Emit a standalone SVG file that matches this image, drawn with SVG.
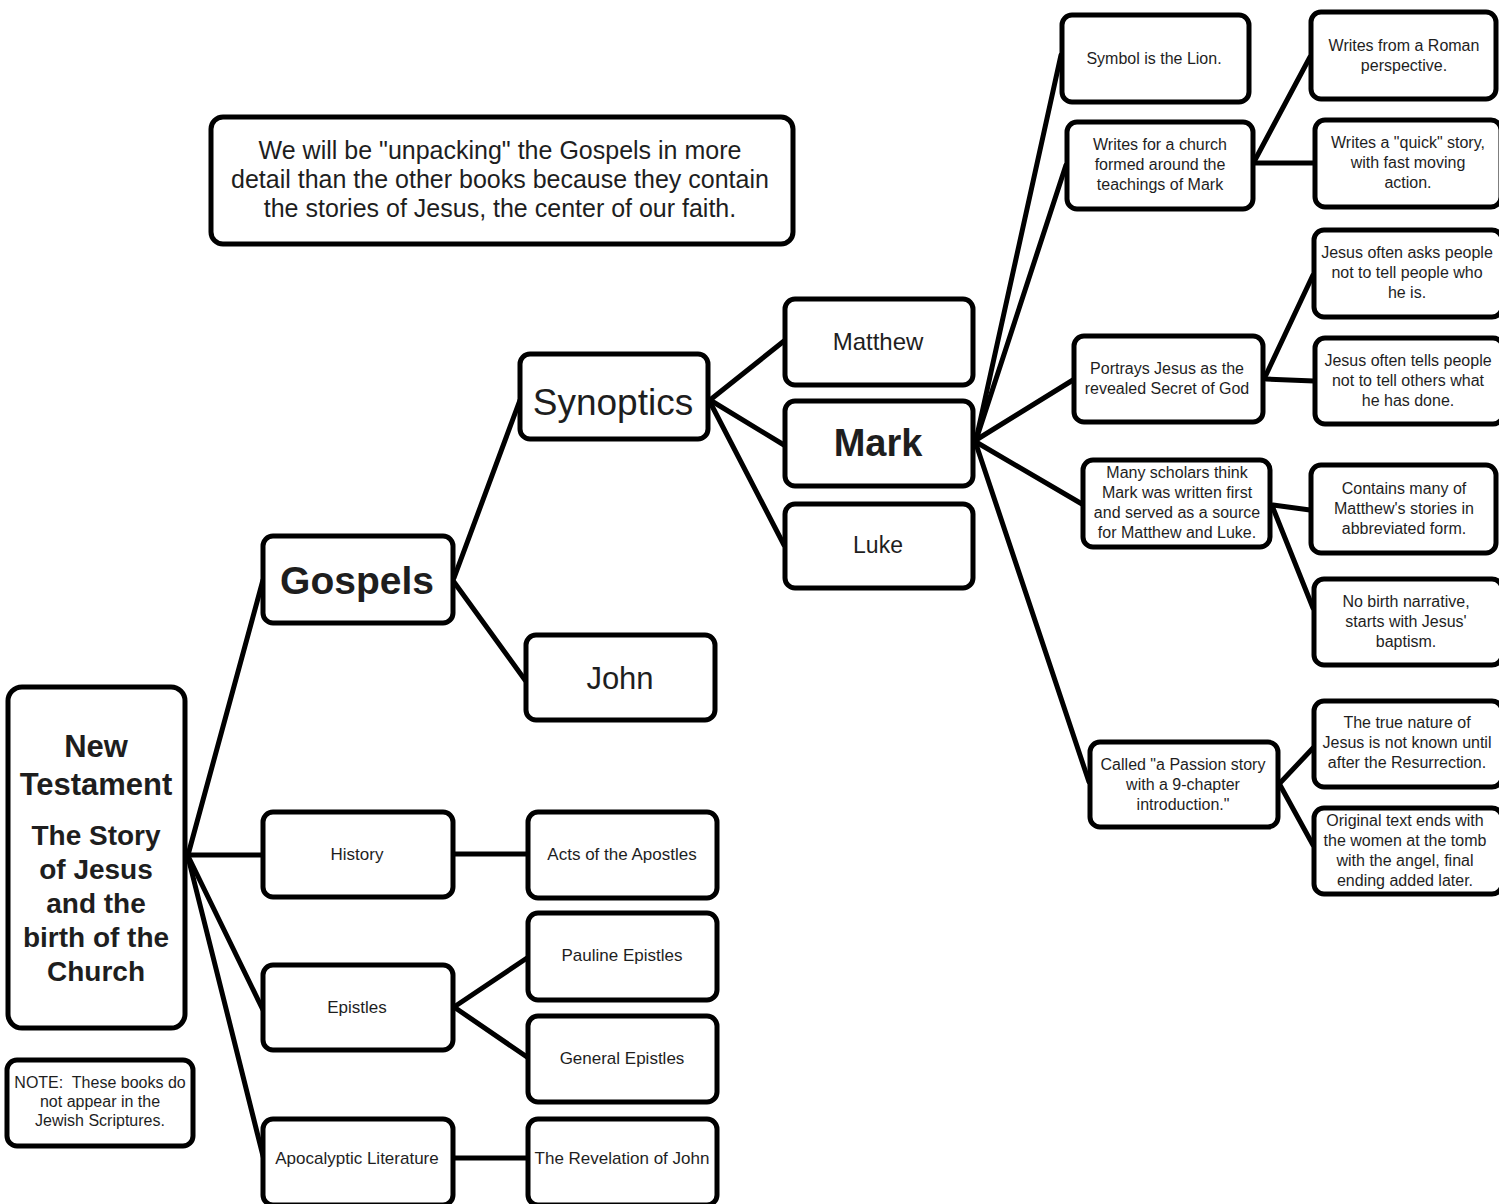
<svg xmlns="http://www.w3.org/2000/svg" width="1499" height="1204" viewBox="0 0 1499 1204">
<style>
.box{fill:#fff;stroke:#000;stroke-width:5}
.c{stroke:#000;stroke-width:5;fill:none;stroke-linecap:round}
text{font-family:"Liberation Sans",Arial,sans-serif;fill:#1e1e1e;text-anchor:middle}
.s{font-size:16px}
.m{font-size:17px}
.b{font-weight:bold}
.pre{white-space:pre}
</style>
<rect width="1499" height="1204" fill="#fff"/>
<g id="connectors">
<line class="c" x1="188" y1="855" x2="263" y2="580"/>
<line class="c" x1="188" y1="855" x2="263" y2="855"/>
<line class="c" x1="189" y1="858" x2="263" y2="1010"/>
<line class="c" x1="189" y1="861" x2="264" y2="1160"/>
<line class="c" x1="454" y1="578" x2="520" y2="400"/>
<line class="c" x1="454" y1="582" x2="525" y2="680"/>
<line class="c" x1="710" y1="400" x2="784" y2="341"/>
<line class="c" x1="710" y1="400" x2="784" y2="445"/>
<line class="c" x1="711" y1="404" x2="784" y2="545"/>
<line class="c" x1="976" y1="440" x2="1061" y2="55"/>
<line class="c" x1="976" y1="440" x2="1066" y2="165"/>
<line class="c" x1="976" y1="440" x2="1073" y2="380"/>
<line class="c" x1="976" y1="442" x2="1082" y2="504"/>
<line class="c" x1="976" y1="444" x2="1089" y2="782"/>
<line class="c" x1="1255" y1="160" x2="1310" y2="57"/>
<line class="c" x1="1255" y1="163" x2="1314" y2="163"/>
<line class="c" x1="1266" y1="375" x2="1313" y2="275"/>
<line class="c" x1="1266" y1="379" x2="1314" y2="381"/>
<line class="c" x1="1273" y1="505" x2="1310" y2="510"/>
<line class="c" x1="1273" y1="508" x2="1313" y2="608"/>
<line class="c" x1="1280" y1="783" x2="1313" y2="748"/>
<line class="c" x1="1280" y1="785" x2="1313" y2="845"/>
<line class="c" x1="454" y1="854" x2="527" y2="854"/>
<line class="c" x1="454" y1="1007" x2="527" y2="958"/>
<line class="c" x1="454" y1="1007" x2="527" y2="1057"/>
<line class="c" x1="454" y1="1158" x2="527" y2="1158"/>
</g>

<g id="intro">
<rect class="box" x="211" y="117" width="582" height="127" rx="12"/>
<text x="500" y="159" font-size="25">We will be "unpacking" the Gospels in more</text>
<text x="500" y="188" font-size="25">detail than the other books because they contain</text>
<text x="500" y="217" font-size="25">the stories of Jesus, the center of our faith.</text>
</g>

<g id="new-testament">
<rect class="box" x="8" y="687" width="177" height="341" rx="14"/>
<text class="b" x="96" y="757" font-size="31">New</text>
<text class="b" x="96" y="795" font-size="31">Testament</text>
<text class="b" x="96" y="845" font-size="28">The Story</text>
<text class="b" x="96" y="879" font-size="28">of Jesus</text>
<text class="b" x="96" y="913" font-size="28">and the</text>
<text class="b" x="96" y="947" font-size="28">birth of the</text>
<text class="b" x="96" y="981" font-size="28">Church</text>
</g>

<g id="note">
<rect class="box" x="7" y="1060" width="186" height="86" rx="10"/>
<text class="s pre" x="100" y="1088">NOTE:  These books do</text>
<text class="s" x="100" y="1107">not appear in the</text>
<text class="s" x="100" y="1126">Jewish Scriptures.</text>
</g>

<g id="gospels">
<rect class="box" x="263" y="536" width="190" height="87" rx="10"/>
<text class="b" x="357" y="594" font-size="39">Gospels</text>
</g>

<g id="synoptics">
<rect class="box" x="520" y="354" width="188" height="85" rx="10"/>
<text x="613" y="415" font-size="37">Synoptics</text>
</g>

<g id="john">
<rect class="box" x="526" y="635" width="189" height="85" rx="10"/>
<text x="620" y="689" font-size="31">John</text>
</g>

<g id="matthew">
<rect class="box" x="785" y="299" width="188" height="86" rx="10"/>
<text x="878" y="350" font-size="24">Matthew</text>
</g>

<g id="mark">
<rect class="box" x="785" y="401" width="188" height="85" rx="10"/>
<text class="b" x="878" y="456" font-size="38">Mark</text>
</g>

<g id="luke">
<rect class="box" x="785" y="504" width="188" height="84" rx="10"/>
<text x="878" y="553" font-size="23">Luke</text>
</g>

<g id="history">
<rect class="box" x="263" y="812" width="190" height="85" rx="10"/>
<text class="m" x="357" y="860">History</text>
</g>

<g id="acts">
<rect class="box" x="528" y="812" width="189" height="86" rx="10"/>
<text class="m" x="622" y="860">Acts of the Apostles</text>
</g>

<g id="pauline">
<rect class="box" x="528" y="913" width="189" height="87" rx="10"/>
<text class="m" x="622" y="961">Pauline Epistles</text>
</g>

<g id="epistles">
<rect class="box" x="263" y="965" width="190" height="85" rx="10"/>
<text class="m" x="357" y="1013">Epistles</text>
</g>

<g id="general">
<rect class="box" x="528" y="1016" width="189" height="86" rx="10"/>
<text class="m" x="622" y="1064">General Epistles</text>
</g>

<g id="apocalyptic">
<rect class="box" x="263" y="1119" width="190" height="86" rx="10"/>
<text class="m" x="357" y="1164">Apocalyptic Literature</text>
</g>

<g id="revelation">
<rect class="box" x="528" y="1119" width="189" height="86" rx="10"/>
<text class="m" x="622" y="1164">The Revelation of John</text>
</g>

<g id="symbol">
<rect class="box" x="1062" y="15" width="187" height="87" rx="10"/>
<text class="s" x="1154" y="64">Symbol is the Lion.</text>
</g>

<g id="writes-church">
<rect class="box" x="1067" y="122" width="186" height="87" rx="10"/>
<text class="s" x="1160" y="150">Writes for a church</text>
<text class="s" x="1160" y="170">formed around the</text>
<text class="s" x="1160" y="190">teachings of Mark</text>
</g>

<g id="roman">
<rect class="box" x="1311" y="12" width="185" height="87" rx="10"/>
<text class="s" x="1404" y="51">Writes from a Roman</text>
<text class="s" x="1404" y="71">perspective.</text>
</g>

<g id="quick">
<rect class="box" x="1315" y="120" width="186" height="87" rx="10"/>
<text class="s" x="1408" y="148">Writes a "quick" story,</text>
<text class="s" x="1408" y="168">with fast moving</text>
<text class="s" x="1408" y="188">action.</text>
</g>

<g id="asks">
<rect class="box" x="1314" y="230" width="188" height="87" rx="10"/>
<text class="s" x="1407" y="258">Jesus often asks people</text>
<text class="s" x="1407" y="278">not to tell people who</text>
<text class="s" x="1407" y="298">he is.</text>
</g>

<g id="portrays">
<rect class="box" x="1074" y="336" width="189" height="86" rx="10"/>
<text class="s" x="1167" y="374">Portrays Jesus as the</text>
<text class="s" x="1167" y="394">revealed Secret of God</text>
</g>

<g id="tells">
<rect class="box" x="1315" y="338" width="188" height="86" rx="10"/>
<text class="s" x="1408" y="366">Jesus often tells people</text>
<text class="s" x="1408" y="386">not to tell others what</text>
<text class="s" x="1408" y="406">he has done.</text>
</g>

<g id="scholars">
<rect class="box" x="1083" y="460" width="187" height="87" rx="10"/>
<text class="s" x="1177" y="478">Many scholars think</text>
<text class="s" x="1177" y="498">Mark was written first</text>
<text class="s" x="1177" y="518">and served as a source</text>
<text class="s" x="1177" y="538">for Matthew and Luke.</text>
</g>

<g id="contains">
<rect class="box" x="1311" y="465" width="185" height="88" rx="10"/>
<text class="s" x="1404" y="494">Contains many of</text>
<text class="s" x="1404" y="514">Matthew's stories in</text>
<text class="s" x="1404" y="534">abbreviated form.</text>
</g>

<g id="birth">
<rect class="box" x="1314" y="579" width="188" height="86" rx="10"/>
<text class="s" x="1406" y="607">No birth narrative,</text>
<text class="s" x="1406" y="627">starts with Jesus'</text>
<text class="s" x="1406" y="647">baptism.</text>
</g>

<g id="passion">
<rect class="box" x="1090" y="742" width="188" height="85" rx="10"/>
<text class="s" x="1183" y="770">Called "a Passion story</text>
<text class="s" x="1183" y="790">with a 9-chapter</text>
<text class="s" x="1183" y="810">introduction."</text>
</g>

<g id="true-nature">
<rect class="box" x="1314" y="701" width="188" height="86" rx="10"/>
<text class="s" x="1407" y="728">The true nature of</text>
<text class="s" x="1407" y="748">Jesus is not known until</text>
<text class="s" x="1407" y="768">after the Resurrection.</text>
</g>

<g id="original">
<rect class="box" x="1314" y="808" width="188" height="86" rx="10"/>
<text class="s" x="1405" y="826">Original text ends with</text>
<text class="s" x="1405" y="846">the women at the tomb</text>
<text class="s" x="1405" y="866">with the angel, final</text>
<text class="s" x="1405" y="886">ending added later.</text>
</g>
</svg>
